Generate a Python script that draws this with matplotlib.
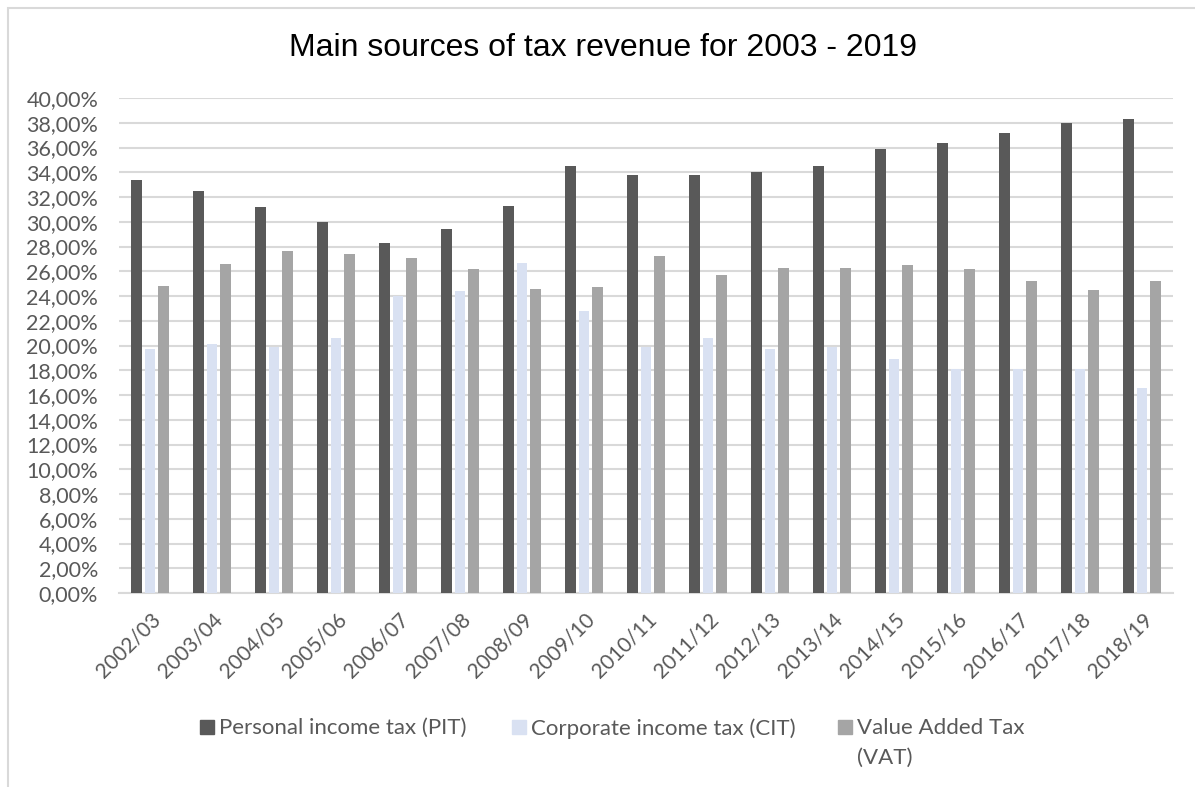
import matplotlib
matplotlib.use("Agg")
import matplotlib.pyplot as plt
import numpy as np
from matplotlib.patches import Rectangle
from matplotlib.ticker import FuncFormatter, MultipleLocator

# Share of total tax revenue (%) per fiscal year
years = ["2002/03", "2003/04", "2004/05", "2005/06", "2006/07", "2007/08",
         "2008/09", "2009/10", "2010/11", "2011/12", "2012/13", "2013/14",
         "2014/15", "2015/16", "2016/17", "2017/18", "2018/19"]
pit = [33.4, 32.5, 31.2, 30.0, 28.3, 29.4, 31.3, 34.5, 33.8, 33.8, 34.0,
       34.5, 35.9, 36.4, 37.2, 38.0, 38.3]
cit = [19.7, 20.1, 19.9, 20.6, 24.0, 24.4, 26.7, 22.8, 19.9, 20.6, 19.7,
       19.9, 18.9, 18.1, 18.1, 18.1, 16.6]
vat = [24.8, 26.6, 27.6, 27.4, 27.1, 26.2, 24.6, 24.7, 27.2, 25.7, 26.3,
       26.3, 26.5, 26.2, 25.2, 24.5, 25.2]

series = [("Personal income tax (PIT)", pit, "#595959"),
          ("Corporate income tax (CIT)", cit, "#d9e1f2"),
          ("Value Added Tax\n(VAT)", vat, "#a5a5a5")]

font = ["Lato", "DejaVu Sans"]
grey = "#595959"
W, H = 1195, 787

fig = plt.figure(figsize=(11.95, 7.87), dpi=100)
ax = fig.add_axes([119 / W, 1 - 593 / H, (1173 - 119) / W, (593 - 98) / H])

x = np.arange(len(years))
width = 0.167
offsets = [-0.215, 0.0, 0.215]
for (label, vals, color), off in zip(series, offsets):
    ax.bar(x + off, vals, width, color=color, zorder=3)

ax.set_xlim(-0.5, len(years) - 0.5)
ax.set_ylim(0, 40)
ax.yaxis.set_major_locator(MultipleLocator(2))
ax.yaxis.set_major_formatter(FuncFormatter(lambda v, p: f"{v:.2f}%".replace(".", ",")))
ax.grid(axis="y", color="#d9d9d9", linewidth=1.5, zorder=0)
for side in ["top", "right", "left"]:
    ax.spines[side].set_visible(False)
ax.spines["bottom"].set_color("#d9d9d9")
ax.spines["bottom"].set_linewidth(1.5)
ax.tick_params(length=0, colors=grey, labelsize=15.5)
ax.tick_params(axis="y", pad=15)
ax.tick_params(axis="x", pad=12, labelsize=15)
ax.set_xticks(x)
ax.set_xticklabels(years, rotation=45, ha="right", rotation_mode="anchor",
                   family=font)
for t in ax.get_yticklabels():
    t.set_family(font)

fig.text(0.505, 1 - 48 / H, "Main sources of tax revenue for 2003 - 2019",
         ha="center", va="center", fontsize=23, family="Liberation Sans",
         color="black")

# legend drawn by hand so the wrapped VAT label lines up with its swatch
leg_y = 1 - 727 / H
swatch_x = [200, 512, 838]
for (label, vals, color), sx in zip(series, swatch_x):
    fig.patches.append(Rectangle((sx / W, leg_y - 7 / H), 14 / W, 14 / H,
                                 transform=fig.transFigure, color=color))
    fig.text((sx + 19) / W, leg_y + 9 / H, label, ha="left", va="top",
             fontsize=16, color=grey, family=font, linespacing=1.6)

# chart frame
fig.patches.append(Rectangle((8 / W, -0.05), 1.1, 1 - 8 / H + 0.05,
                             transform=fig.transFigure, fill=False,
                             edgecolor="#d9d9d9", linewidth=1.5))

fig.savefig("out.png", dpi=100)
